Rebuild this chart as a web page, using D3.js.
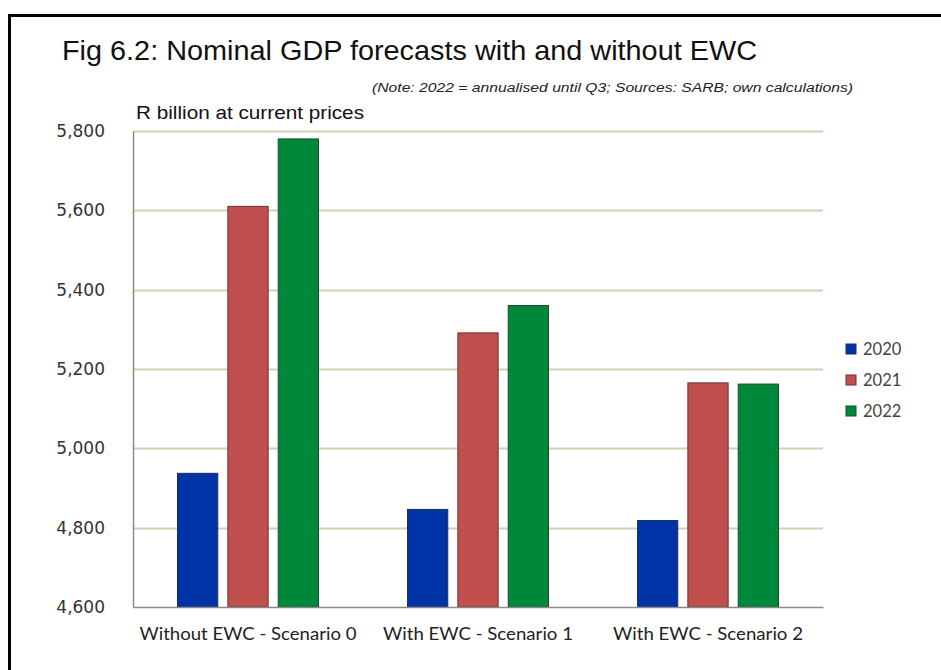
<!DOCTYPE html>
<html>
<head>
<meta charset="utf-8">
<script src="https://cdn.jsdelivr.net/npm/d3@7"></script>
<style>
  body { margin: 0; background: #fff; }
  svg { display: block; }
</style>
</head>
<body>
<div id="chart"></div>
<script>
// data
var scenarios = ["Without EWC - Scenario 0", "With EWC - Scenario 1", "With EWC - Scenario 2"];
var years = ["2020", "2021", "2022"];
var gdp2020 = [4937, 4846, 4818];
var gdp2021 = [5610, 5291, 5165];
var gdp2022 = [5780, 5360, 5162];
var yTicks = [4600, 4800, 5000, 5200, 5400, 5600, 5800];
var colors = ["#0033a6", "#c0504d", "#00883a"];
var strokes = ["#1f2f66", "#6b3030", "#1c4a2c"];

var series = [gdp2020, gdp2021, gdp2022];

var width = 941, height = 670;
var margin = { left: 133, right: 118, top: 131, bottom: 63 };

var svg = d3.select("#chart")
  .append("svg")
  .attr("width", width)
  .attr("height", height);

// outer frame (top and left edge visible)
svg.append("path")
  .attr("d", "M9.5," + height + " V15.5 H" + width)
  .attr("fill", "none")
  .attr("stroke", "#000")
  .attr("stroke-width", 3);

var x0 = d3.scaleBand()
  .domain(scenarios)
  .range([margin.left, width - margin.right]);

var x1 = d3.scaleBand()
  .domain(years)
  .range([0, 141])
  .paddingInner(0.2);

var y = d3.scaleLinear()
  .domain([4600, 5800])
  .range([height - margin.bottom, margin.top]);

// gridlines
svg.append("g")
  .selectAll("line")
  .data(yTicks.slice(1))
  .enter()
  .append("line")
  .attr("x1", margin.left)
  .attr("x2", width - margin.right)
  .attr("y1", function(d) { return Math.round(y(d)) + 0.5; })
  .attr("y2", function(d) { return Math.round(y(d)) + 0.5; })
  .attr("stroke", "#d3cfb2")
  .attr("stroke-width", 2);

// bars
var groups = svg.append("g")
  .selectAll("g")
  .data(scenarios)
  .enter()
  .append("g")
  .attr("transform", function(d) {
    return "translate(" + (x0(d) + x0.bandwidth() / 2 - 70.5) + ",0)";
  });

groups.selectAll("rect")
  .data(function(d, i) {
    return years.map(function(yr, j) { return { year: yr, value: series[j][i], k: j }; });
  })
  .enter()
  .append("rect")
  .attr("x", function(d) { return x1(d.year); })
  .attr("width", x1.bandwidth())
  .attr("y", function(d) { return y(d.value); })
  .attr("height", function(d) { return y(4600) - y(d.value); })
  .attr("fill", function(d) { return colors[d.k]; })
  .attr("stroke", function(d) { return strokes[d.k]; })
  .attr("stroke-width", 1);

// y axis
var yAxis = svg.append("g")
  .attr("transform", "translate(" + margin.left + ",0)")
  .call(d3.axisLeft(y).tickValues(yTicks).tickSize(0).tickPadding(28).tickFormat(d3.format(",")));
yAxis.select(".domain").attr("stroke", "#8a8a8a").attr("stroke-width", 1.5);
yAxis.selectAll("text")
  .attr("font-family", "DejaVu Sans, Verdana, sans-serif")
  .attr("font-size", 17)
  .attr("fill", "#333");

// x axis
var xAxis = svg.append("g")
  .attr("transform", "translate(0," + (height - margin.bottom) + ")")
  .call(d3.axisBottom(x0).tickSize(0).tickPadding(21));
xAxis.select(".domain").attr("stroke", "#8a8a8a").attr("stroke-width", 1.5);
xAxis.selectAll("text")
  .attr("font-family", "Lato, sans-serif")
  .attr("font-size", 17.5)
  .attr("fill", "#222")
  .attr("textLength", function(d, i) { return [217, 190, 190][i]; })
  .attr("lengthAdjust", "spacingAndGlyphs");

// legend
var legend = svg.append("g")
  .selectAll("g")
  .data(years)
  .enter()
  .append("g")
  .attr("transform", function(d, i) { return "translate(846," + (344 + i * 31) + ")"; });
legend.append("rect")
  .attr("width", 10)
  .attr("height", 10)
  .attr("fill", function(d, i) { return colors[i]; })
  .attr("stroke", function(d, i) { return strokes[i]; });
legend.append("text")
  .attr("x", 17)
  .attr("y", 11)
  .attr("font-family", "Lato, sans-serif")
  .attr("font-size", 16.5)
  .attr("fill", "#444")
  .text(function(d) { return d; });

// titles
svg.append("text")
  .attr("x", 62)
  .attr("y", 60)
  .attr("font-family", "Liberation Sans, Arial, sans-serif")
  .attr("font-size", 27.5)
  .attr("fill", "#111")
  .attr("textLength", 695)
  .attr("lengthAdjust", "spacingAndGlyphs")
  .text("Fig 6.2: Nominal GDP forecasts with and without EWC");

svg.append("text")
  .attr("x", 372)
  .attr("y", 92)
  .attr("font-family", "Liberation Sans, Arial, sans-serif")
  .attr("font-style", "italic")
  .attr("font-size", 12.5)
  .attr("fill", "#222")
  .attr("textLength", 481)
  .attr("lengthAdjust", "spacingAndGlyphs")
  .text("(Note: 2022 = annualised until Q3; Sources: SARB; own calculations)");

svg.append("text")
  .attr("x", 136)
  .attr("y", 119)
  .attr("font-family", "Liberation Sans, Arial, sans-serif")
  .attr("font-size", 18.5)
  .attr("fill", "#111")
  .attr("textLength", 228)
  .attr("lengthAdjust", "spacingAndGlyphs")
  .text("R billion at current prices");
</script>
</body>
</html>
